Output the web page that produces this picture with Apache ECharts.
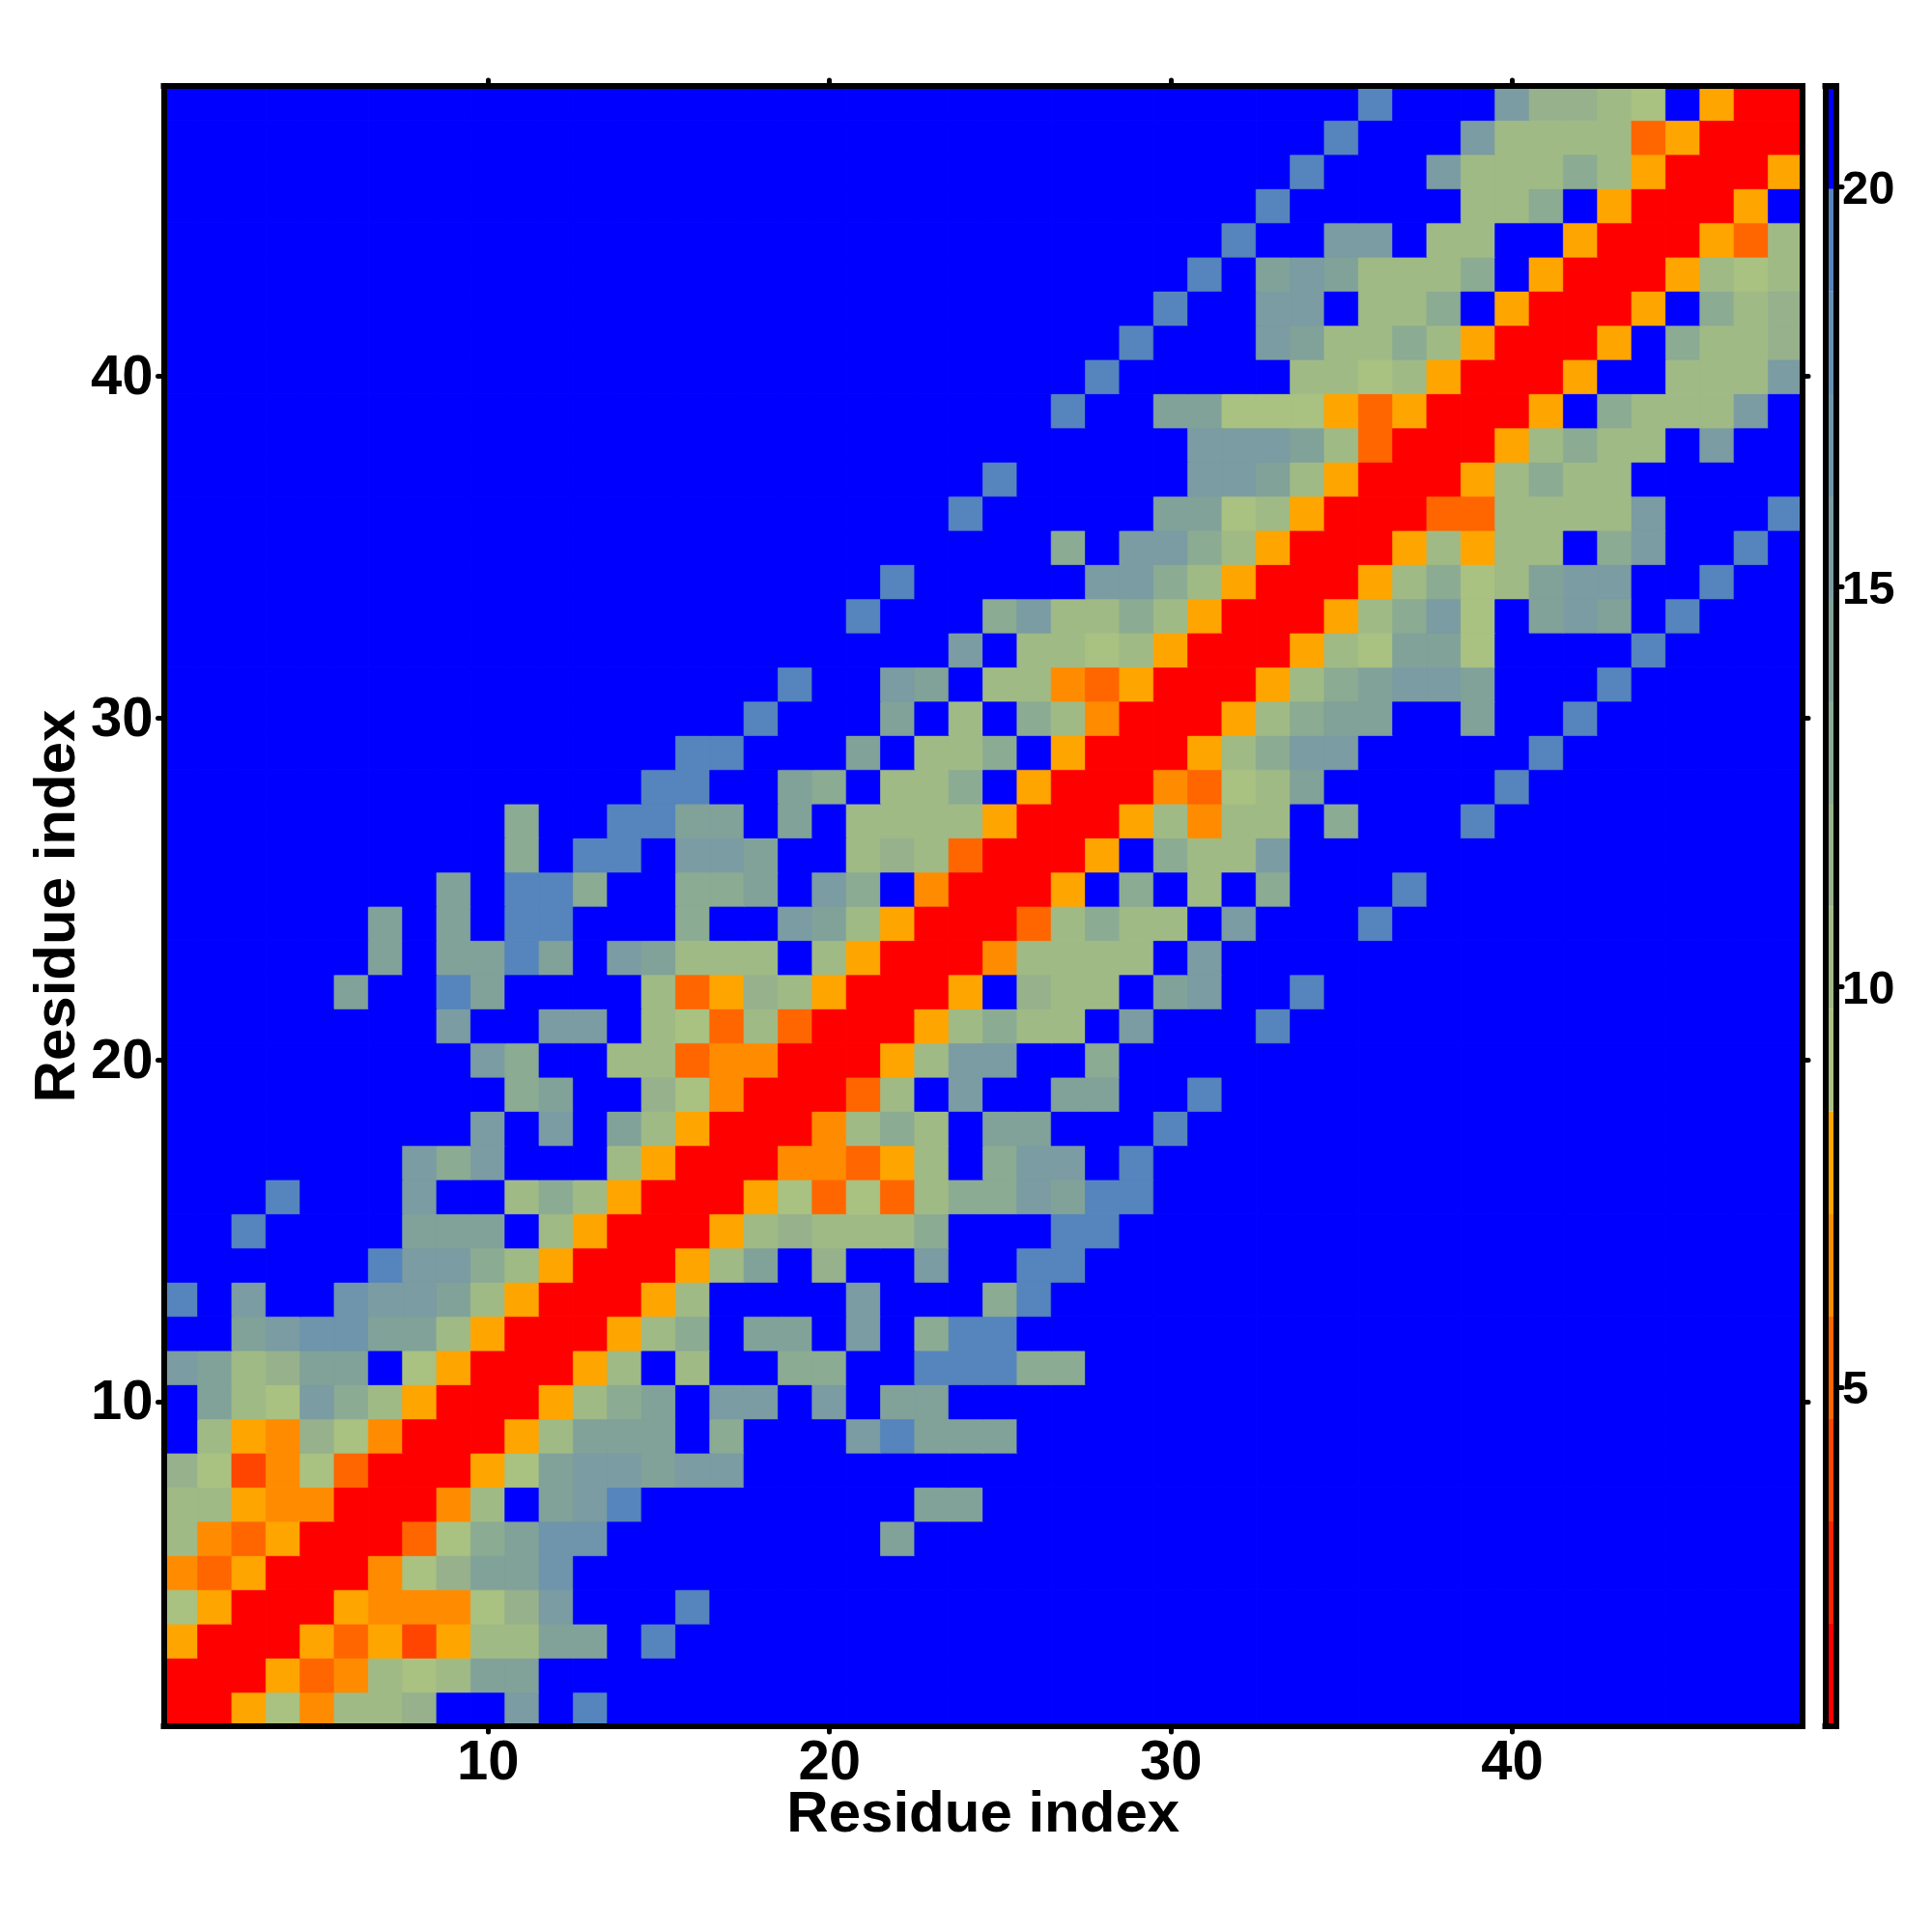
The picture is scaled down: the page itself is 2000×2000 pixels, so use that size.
<!DOCTYPE html>
<html>
<head>
<meta charset="utf-8">
<style>html,body{margin:0;padding:0;background:#fff}#c{width:2000px;height:2000px}</style>
<script src="https://cdn.jsdelivr.net/npm/echarts@6/dist/echarts.min.js"></script>
</head>
<body>
<div id="c"></div>
<script>
// Distance bins shown by the colour bar
const binEdges = [0.76,2.04,3.32,4.6,5.88,7.16,8.44,9.72,11,12.29,13.57,14.85,16.13,17.41,18.69,19.97,21.26];
const binColors = ['#FF0000','#FF2200','#FF4500','#FF6600','#FF8C00','#FFA500','#A9C181','#A0BA85','#96B18B','#8BAB93','#81A299','#7A9CA2','#6E95AB','#6390B3','#5585BC','#0000FF'];
const residues = Array.from({length:48},(_,i)=>String(i+1));
const mainTicks = ['10','20','30','40'];
const barTicks = [5,10,15,20];
const axisTitle = 'Residue index';
const X = 21; // far apart: plotted in blue
// Each row: first listed column, then values from that column on; unlisted cells are X
const row01=[1, 2,2,8,9,6,10,10,12,X,X,15,X,19];
const row02=[1, 2,2,2,8,5,6,10,9,10,14,14];
const row03=[1, 8,2,2,2,8,5,8,4,8,10,10,14,14,X,19];
const row04=[1, 9,8,2,2,2,8,6,6,6,9,12,15,X,X,X,19];
const row05=[1, 6,5,8,2,2,2,6,9,12,14,14,17];
const row06=[1, 10,6,5,8,2,2,2,5,9,13,14,17,17,X,X,X,X,X,X,X,X,14];
const row07=[1, 10,10,8,6,6,2,2,2,6,10,X,14,15,19,X,X,X,X,X,X,X,X,14,14];
const row08=[1, 12,9,4,6,9,5,2,2,2,8,9,14,15,15,14,15,15];
const row09=[1, X,10,8,6,12,9,6,2,2,2,8,10,14,14,14,X,13,X,X,X,15,19,14,14,14];
const row10=[1, X,14,10,9,15,13,10,8,2,2,2,8,10,13,14,X,15,15,X,15,X,14,14];
const row11=[1, 15,14,10,12,14,14,X,9,8,2,2,2,8,10,X,10,X,X,13,13,X,X,19,19,19,13,13];
const row12=[1, X,X,14,15,17,17,14,14,10,8,2,2,2,8,10,13,X,14,14,X,15,X,13,19,19];
const row13=[1, 19,X,15,X,X,17,15,15,14,10,8,2,2,2,8,10,X,X,X,X,15,X,X,X,13,19];
const row14=[7, 19,15,15,13,10,8,2,2,2,8,10,14,X,12,X,X,15,X,X,19,19];
const row15=[3, 19,X,X,X,X,14,14,14,X,10,8,2,2,2,8,10,12,10,10,10,13,X,X,X,19,19];
const row16=[4, 19,X,X,X,15,X,X,10,13,10,8,2,2,2,8,9,5,9,5,10,13,13,15,14,19,19];
const row17=[8, 15,13,15,X,X,X,10,8,2,2,2,6,6,5,8,10,X,13,15,15,X,19];
const row18=[10, 15,X,15,X,14,10,8,2,2,2,6,10,13,10,X,14,14,X,X,X,19];
const row19=[11, 13,14,X,X,12,9,6,2,2,2,5,10,X,15,X,X,14,14,X,X,19];
const row20=[10, 15,13,X,X,10,10,5,6,6,2,2,2,8,10,15,15,X,X,13];
const row21=[9, 15,X,X,15,15,X,10,9,5,10,5,2,2,2,8,10,13,10,10,X,15,X,X,X,19];
const row22=[6, 14,X,X,19,14,X,X,X,X,10,5,8,12,10,8,2,2,2,8,X,12,10,10,X,14,15,X,X,19];
const row23=[7, 14,X,14,14,19,14,X,15,14,10,10,10,X,10,8,2,2,2,6,10,10,10,10,X,15];
const row24=[7, 14,X,14,X,19,19,X,X,X,13,X,X,15,14,10,8,2,2,2,5,10,13,10,10,X,15,X,X,X,19];
const row25=[9, 14,X,19,19,13,X,X,13,13,14,X,15,13,X,6,2,2,2,8,X,13,X,10,X,13,X,X,X,19];
const row26=[11, 13,X,19,19,X,15,15,14,X,X,10,12,10,5,2,2,2,8,X,13,10,10,15];
const row27=[11, 13,X,X,19,19,14,14,X,14,X,10,10,10,10,8,2,2,2,8,10,6,10,10,X,13,X,X,X,19];
const row28=[15, 19,19,X,X,14,13,X,10,10,13,X,8,2,2,2,6,5,9,10,14,X,X,X,X,X,19];
const row29=[16, 19,19,X,X,X,14,X,10,10,13,X,8,2,2,2,8,10,13,15,15,X,X,X,X,X,19];
const row30=[18, 19,X,X,X,14,X,10,X,13,10,6,2,2,2,8,10,13,14,14,X,X,14,X,X,19];
const row31=[19, 19,X,X,15,14,X,10,10,6,5,8,2,2,2,8,10,13,14,15,15,14,X,X,X,19];
const row32=[24, 15,X,10,10,9,10,8,2,2,2,8,10,9,14,14,9,X,X,X,X,19];
const row33=[21, 19,X,X,X,13,15,10,10,13,10,8,2,2,2,8,10,13,15,9,X,14,15,14,X,19];
const row34=[22, 19,X,X,X,X,X,15,15,13,10,8,2,2,2,8,10,13,9,10,14,15,15,X,X,19];
const row35=[27, 13,X,15,15,13,10,8,2,2,2,8,10,8,10,10,X,13,15,X,X,19];
const row36=[24, 19,X,X,X,X,X,14,14,9,10,8,2,2,2,5,5,10,10,10,10,15,X,X,X,19];
const row37=[25, 19,X,X,X,X,X,15,15,14,10,8,2,2,2,8,10,13,10,10];
const row38=[31, 15,15,15,14,10,5,2,2,2,8,10,13,10,10,X,15];
const row39=[27, 19,X,X,14,14,9,9,9,8,5,8,2,2,2,8,X,13,10,10,10,15];
const row40=[28, 19,X,X,X,X,X,10,10,9,10,8,2,2,2,8,X,X,10,10,10,15];
const row41=[29, 19,X,X,X,15,14,10,10,13,10,8,2,2,2,8,X,13,10,10,12];
const row42=[30, 19,X,X,15,15,X,10,10,13,X,8,2,2,2,8,X,13,10,12];
const row43=[31, 19,X,14,15,14,10,10,10,13,X,8,2,2,2,8,10,9,10];
const row44=[32, 19,X,X,15,15,X,10,10,X,X,8,2,2,2,8,5,10];
const row45=[33, 19,X,X,X,X,X,10,10,13,X,8,2,2,2,8,X];
const row46=[34, 19,X,X,X,15,10,10,10,13,10,8,2,2,2,8];
const row47=[35, 19,X,X,X,15,10,10,10,10,5,8,2,2,2];
const row48=[36, 19,X,X,X,15,12,12,10,9,X,8,2,2];
const rows=[row01,row02,row03,row04,row05,row06,row07,row08,row09,row10,row11,row12,row13,row14,row15,row16,row17,row18,row19,row20,row21,row22,row23,row24,row25,row26,row27,row28,row29,row30,row31,row32,row33,row34,row35,row36,row37,row38,row39,row40,row41,row42,row43,row44,row45,row46,row47,row48];

const colorOf=v=>{
  for(let i=0;i<16;i++) if(v>=binEdges[i]&&v<binEdges[i+1]) return binColors[i];
  return binColors[15];
};
const cells=[];
rows.forEach((r,y)=>{
  for(let x=0;x<48;x++){
    const k=x+1-r[0]+1;
    const v=(k>=1&&k<r.length)?r[k]:X;
    // a thin same-colour edge closes the antialiasing seams between neighbouring cells
    cells.push({value:[x,y,v],itemStyle:{borderColor:colorOf(v),borderWidth:0.7}});
  }
});
const pieces=binColors.map((color,i)=>({gte:binEdges[i],lt:binEdges[i+1]+(i===15?1:0),color}));
const barData=binColors.map((_,i)=>[binEdges[i],binEdges[i+1],i]);

const black='#000';
const font='"Liberation Sans", Arial, Helvetica, sans-serif';
const showTick=(i,v)=>mainTicks.includes(String(v));
const lineCfg={lineStyle:{color:black,width:6,cap:'square'}};
const tickCfg={show:true,alignWithLabel:true,interval:showTick,length:6,lineStyle:{color:black,width:5,cap:'round'}};
const catBase={type:'category',data:residues,z:10,axisLine:Object.assign({show:true,onZero:false},lineCfg),axisTick:tickCfg,splitLine:{show:false}};
const lbl={show:true,interval:showTick,color:black,fontFamily:font,fontWeight:'bold',fontSize:58};
const nameStyle={color:black,fontFamily:font,fontWeight:'bold',fontSize:60};
const barLine={show:true,onZero:false,lineStyle:{color:black,width:6,cap:'square'}};

const chart=echarts.init(document.getElementById('c'),null,{renderer:'canvas'});
chart.setOption({
  animation:false,
  backgroundColor:'#fff',
  grid:[
    {left:169.5,top:89,width:1696.5,height:1698,containLabel:false},
    {left:1889.5,top:89,width:11.5,height:1698,containLabel:false}
  ],
  xAxis:[
    Object.assign({},catBase,{gridIndex:0,position:'bottom',axisLabel:Object.assign({},lbl,{margin:10}),name:axisTitle,nameLocation:'middle',nameMoveOverlap:false,nameGap:62,nameTextStyle:nameStyle}),
    Object.assign({},catBase,{gridIndex:0,position:'top',axisLabel:{show:false}}),
    {type:'value',gridIndex:1,min:0,max:1,position:'bottom',z:10,axisLine:barLine,axisTick:{show:false},axisLabel:{show:false},splitLine:{show:false}},
    {type:'value',gridIndex:1,min:0,max:1,position:'top',z:10,axisLine:barLine,axisTick:{show:false},axisLabel:{show:false},splitLine:{show:false}}
  ],
  yAxis:[
    Object.assign({},catBase,{gridIndex:0,position:'left',axisLabel:Object.assign({},lbl,{margin:11,verticalAlign:'top',lineHeight:5}),name:axisTitle,nameLocation:'middle',nameMoveOverlap:false,nameGap:79,nameRotate:90,nameTextStyle:nameStyle}),
    Object.assign({},catBase,{gridIndex:0,position:'right',axisLabel:{show:false}}),
    {type:'value',gridIndex:1,min:binEdges[0],max:binEdges[16],position:'left',z:10,axisLine:barLine,axisTick:{show:false},axisLabel:{show:false},splitLine:{show:false}},
    {type:'value',gridIndex:1,min:binEdges[0],max:binEdges[16],position:'right',z:10,axisLine:barLine,
      axisTick:{show:true,customValues:barTicks,length:6,lineStyle:{color:black,width:5,cap:'round'}},
      axisLabel:{show:true,customValues:barTicks,margin:6,verticalAlign:'top',lineHeight:8,color:black,fontFamily:font,fontWeight:'bold',fontSize:49,formatter:v=>String(v)},
      splitLine:{show:false}}
  ],
  visualMap:{show:false,type:'piecewise',seriesIndex:0,dimension:2,pieces},
  series:[
    {type:'heatmap',xAxisIndex:0,yAxisIndex:0,data:cells,progressive:0,emphasis:{disabled:true}},
    {type:'custom',xAxisIndex:2,yAxisIndex:2,data:barData,silent:true,clip:true,
      encode:{y:[0,1]},
      renderItem:(p,api)=>{
        const a=api.coord([0,api.value(0)]);
        const b=api.coord([1,api.value(1)]);
        return {type:'rect',shape:{x:a[0],y:b[1],width:b[0]-a[0],height:a[1]-b[1]},style:{fill:binColors[api.value(2)]}};
      }}
  ]
});
</script>
</body>
</html>
